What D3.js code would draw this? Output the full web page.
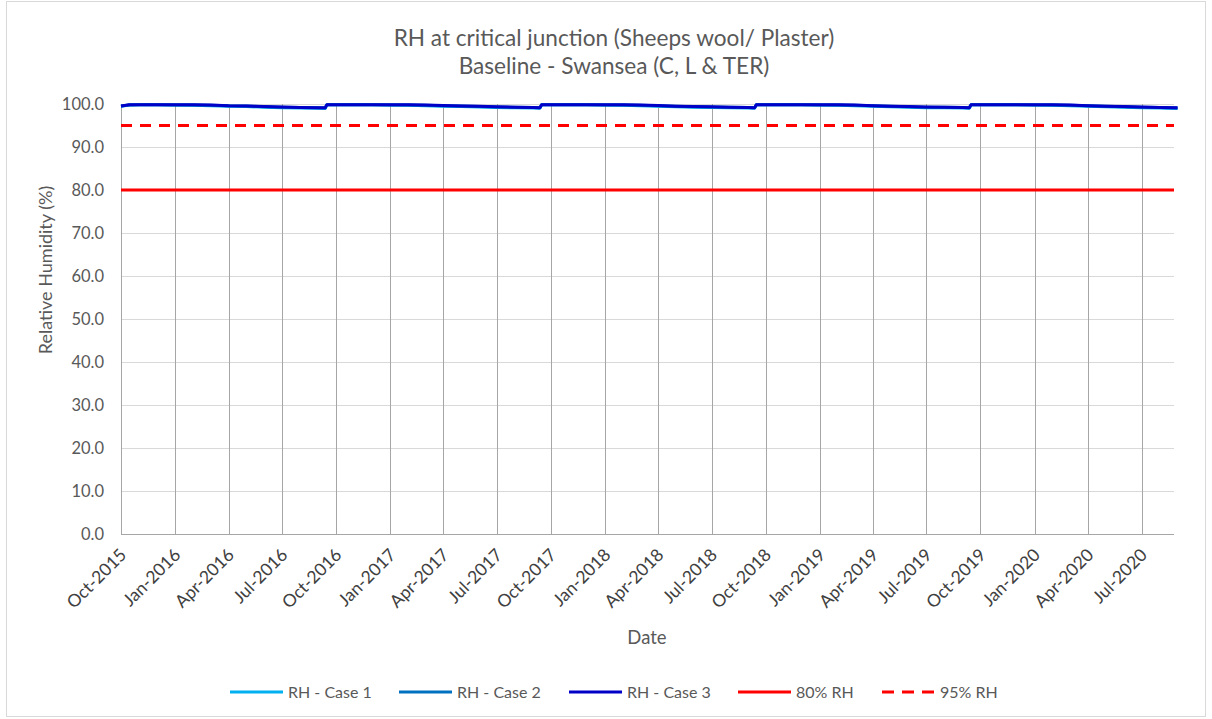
<!DOCTYPE html>
<html><head><meta charset="utf-8">
<script src="https://cdn.jsdelivr.net/npm/d3@7"></script>
<style>body{margin:0;background:#fff;} svg{display:block;font-family:Lato, "Liberation Sans", sans-serif;}</style>
</head><body><svg id="c" width="1212" height="719"></svg>
<script>
const dates = [
"2015-10-01","2015-10-15","2015-11-01","2015-12-01",
"2016-01-01","2016-02-01","2016-03-01","2016-04-01","2016-05-01","2016-06-01","2016-07-01","2016-08-01","2016-09-01","2016-09-12","2016-09-15","2016-10-01","2016-11-01","2016-12-01",
"2017-01-01","2017-02-01","2017-03-01","2017-04-01","2017-05-01","2017-06-01","2017-07-01","2017-08-01","2017-09-01","2017-09-12","2017-09-15","2017-10-01","2017-11-01","2017-12-01",
"2018-01-01","2018-02-01","2018-03-01","2018-04-01","2018-05-01","2018-06-01","2018-07-01","2018-08-01","2018-09-01","2018-09-12","2018-09-15","2018-10-01","2018-11-01","2018-12-01",
"2019-01-01","2019-02-01","2019-03-01","2019-04-01","2019-05-01","2019-06-01","2019-07-01","2019-08-01","2019-09-01","2019-09-12","2019-09-15","2019-10-01","2019-11-01","2019-12-01",
"2020-01-01","2020-02-01","2020-03-01","2020-04-01","2020-05-01","2020-06-01","2020-07-01","2020-08-01","2020-08-31"];
const rhCase3 = [
99.55,99.8,99.85,99.85,
99.8,99.8,99.75,99.6,99.55,99.4,99.3,99.2,99.15,99.1,99.85,99.85,99.85,99.85,
99.8,99.8,99.75,99.65,99.55,99.45,99.35,99.25,99.2,99.15,99.85,99.85,99.85,99.85,
99.8,99.8,99.75,99.65,99.5,99.4,99.35,99.25,99.2,99.15,99.85,99.85,99.85,99.85,
99.8,99.8,99.75,99.6,99.5,99.4,99.3,99.25,99.2,99.15,99.85,99.85,99.85,99.85,
99.8,99.8,99.75,99.6,99.5,99.4,99.3,99.2,99.1];
const rhCase2 = [
99.52,99.78,99.83,99.83,
99.78,99.78,99.72,99.57,99.52,99.37,99.27,99.17,99.12,99.07,99.83,99.83,99.83,99.83,
99.78,99.78,99.72,99.62,99.52,99.42,99.32,99.22,99.17,99.12,99.83,99.83,99.83,99.83,
99.78,99.78,99.72,99.62,99.47,99.37,99.32,99.22,99.17,99.12,99.83,99.83,99.83,99.83,
99.78,99.78,99.72,99.57,99.47,99.37,99.27,99.22,99.17,99.12,99.83,99.83,99.83,99.83,
99.78,99.78,99.72,99.57,99.47,99.37,99.27,99.17,99.07];
const rhCase1 = [
99.45,99.75,99.8,99.8,
99.75,99.7,99.6,99.45,99.4,99.25,99.15,99.05,99.0,98.95,99.8,99.8,99.8,99.8,
99.75,99.7,99.6,99.5,99.4,99.3,99.2,99.1,99.05,99.0,99.8,99.8,99.8,99.8,
99.75,99.7,99.6,99.5,99.35,99.25,99.2,99.1,99.05,99.0,99.8,99.8,99.8,99.8,
99.75,99.7,99.6,99.45,99.35,99.25,99.15,99.1,99.05,99.0,99.8,99.8,99.8,99.8,
99.75,99.7,99.6,99.45,99.35,99.25,99.15,99.05,98.95];
const threshold80 = 80;
const threshold95 = 95;
const xTickLabels = ["Oct-2015","Jan-2016","Apr-2016","Jul-2016","Oct-2016","Jan-2017","Apr-2017","Jul-2017","Oct-2017","Jan-2018","Apr-2018","Jul-2018","Oct-2018","Jan-2019","Apr-2019","Jul-2019","Oct-2019","Jan-2020","Apr-2020","Jul-2020"];
const yTicks = [0,10,20,30,40,50,60,70,80,90,100];
const titleLines = ["RH at critical junction (Sheeps wool/ Plaster)","Baseline - Swansea (C, L & TER)"];
const seriesNames = ["RH - Case 1","RH - Case 2","RH - Case 3","80% RH","95% RH"];

const parse = d3.timeParse("%Y-%m-%d");
const tparse = d3.timeParse("%b-%Y");
const svg = d3.select("#c");
const M = {l:121, r:1174, t:104, b:534};
const x = d3.scaleTime().domain([parse("2015-10-01"), parse("2020-08-25")]).range([M.l, M.r]);
const y = d3.scaleLinear().domain([0,100]).range([M.b, M.t]);
const grey = "#595959";

svg.append("rect").attr("x",6.5).attr("y",1.5).attr("width",1199).attr("height",715)
  .attr("fill","#fff").attr("stroke","#d9d9d9");

// title
svg.append("g").selectAll("text").data(titleLines).join("text")
  .attr("x",614).attr("y",(d,i)=>46+i*28).attr("text-anchor","middle")
  .attr("font-size",22.6).attr("fill",grey).text(d=>d);

// horizontal grid
svg.append("g").selectAll("line").data(yTicks.filter(d=>d>0)).join("line")
  .attr("x1",M.l).attr("x2",M.r).attr("y1",d=>Math.round(y(d))+0.5).attr("y2",d=>Math.round(y(d))+0.5)
  .attr("stroke","#d9d9d9").attr("stroke-width",1);

// x axis via d3 axis
const tickDates = xTickLabels.map(tparse);
const xAxis = d3.axisBottom(x).tickValues(tickDates).tickFormat(d3.timeFormat("%b-%Y")).tickSize(0);
const gx = svg.append("g").attr("transform",`translate(0,${M.b})`).call(xAxis);
gx.select(".domain").remove();
gx.selectAll("text").attr("font-size",17.5).attr("fill","#404040").attr("font-family","Lato, sans-serif")
  .attr("text-anchor","end").attr("dy",null).attr("y",0)
  .attr("transform","translate(6,22) rotate(-45)");
// vertical grid
svg.append("g").selectAll("line").data(tickDates).join("line")
  .attr("x1",d=>Math.round(x(d))+0.5).attr("x2",d=>Math.round(x(d))+0.5).attr("y1",M.t).attr("y2",M.b)
  .attr("stroke","#a6a6a6").attr("stroke-width",1);
svg.append("line").attr("x1",M.l).attr("x2",M.r).attr("y1",M.b+0.5).attr("y2",M.b+0.5).attr("stroke","#a6a6a6");

// y axis
const yAxis = d3.axisLeft(y).tickValues(yTicks).tickFormat(d3.format(".1f")).tickSize(0);
const gy = svg.append("g").attr("transform",`translate(${M.l},0)`).call(yAxis);
gy.select(".domain").remove();
gy.selectAll("text").attr("font-size",16.5).attr("fill",grey).attr("font-family","Lato, sans-serif").attr("x",-17);

// axis titles
svg.append("text").attr("x",647).attr("y",644).attr("text-anchor","middle").attr("font-size",18.5).attr("fill",grey).text("Date");
svg.append("text").attr("transform","translate(52,270) rotate(-90)").attr("text-anchor","middle").attr("font-size",18).attr("fill",grey).text("Relative Humidity (%)");

// threshold lines
svg.append("line").attr("x1",M.l).attr("x2",M.r).attr("y1",y(threshold80)).attr("y2",y(threshold80))
  .attr("stroke","#ff0000").attr("stroke-width",3);
svg.append("line").attr("x1",M.l).attr("x2",M.r).attr("y1",y(threshold95)).attr("y2",y(threshold95))
  .attr("stroke","#ff0000").attr("stroke-width",3).attr("stroke-dasharray","11,8");

// series
const colors = ["#00b0f0","#0070c0","#0000c8"];
const series = [rhCase1, rhCase2, rhCase3];
const line = d3.line().x((d,i)=>x(parse(dates[i]))).y(d=>y(d));
series.forEach((s,k)=>{
  svg.append("path").datum(s).attr("d",line).attr("fill","none")
    .attr("stroke",colors[k]).attr("stroke-width",3).attr("stroke-linejoin","round");
});

// legend
const legX = [230,399,569,738,882];
const legColors = ["#00b0f0","#0070c0","#0000c8","#ff0000","#ff0000"];
const lg = svg.append("g");
seriesNames.forEach((n,i)=>{
  lg.append("line").attr("x1",legX[i]).attr("x2",legX[i]+53).attr("y1",692).attr("y2",692)
    .attr("stroke",legColors[i]).attr("stroke-width",3).attr("stroke-dasharray", i===4?"12,8":null);
  lg.append("text").attr("x",legX[i]+58).attr("y",698).attr("font-size",16).attr("fill",grey).text(n);
});
</script></body></html>
